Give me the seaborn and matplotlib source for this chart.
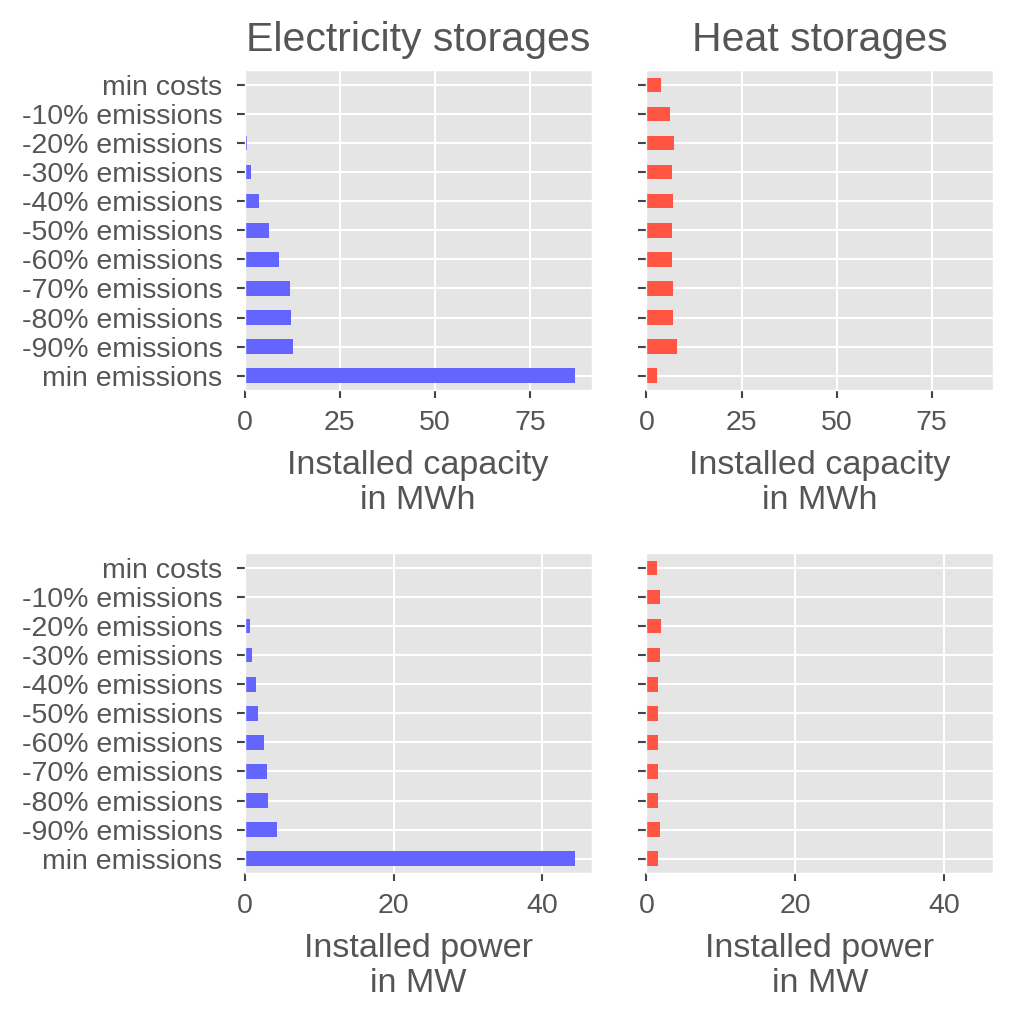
import matplotlib
matplotlib.use('Agg')
import matplotlib.pyplot as plt
import seaborn as sns
import pandas as pd

# scenario labels, top to bottom
scenarios = ['min costs', '-10% emissions', '-20% emissions', '-30% emissions',
             '-40% emissions', '-50% emissions', '-60% emissions', '-70% emissions',
             '-80% emissions', '-90% emissions', 'min emissions']

# installed capacity in MWh
el_capacity = [0.0, 0.0, 0.6, 1.6, 3.7, 6.5, 9.0, 11.9, 12.2, 12.8, 86.8]
heat_capacity = [3.8, 6.3, 7.3, 6.6, 7.0, 6.6, 6.6, 7.0, 7.0, 8.0, 2.8]

# installed power in MW
el_power = [0.0, 0.0, 0.67, 0.94, 1.47, 1.83, 2.59, 2.94, 3.12, 4.37, 44.4]
heat_power = [1.43, 1.8, 1.97, 1.8, 1.6, 1.6, 1.6, 1.6, 1.6, 1.85, 1.6]

el_color = '#6464ff'
heat_color = '#ff5542'

plt.style.use('ggplot')
plt.rcParams['font.family'] = ['Liberation Sans', 'DejaVu Sans']
plt.rcParams['font.size'] = 20.5
plt.rcParams['text.color'] = '#555555'

fig, axes = plt.subplots(2, 2, figsize=(10.24, 10.19), dpi=100, sharex='row')
fig.subplots_adjust(left=0.239, right=0.970, top=0.931, bottom=0.143, wspace=0.158, hspace=0.51)

panels = [
    (axes[0, 0], el_capacity, el_color, 'Installed capacity\nin MWh'),
    (axes[0, 1], heat_capacity, heat_color, 'Installed capacity\nin MWh'),
    (axes[1, 0], el_power, el_color, 'Installed power\nin MW'),
    (axes[1, 1], heat_power, heat_color, 'Installed power\nin MW'),
]

for ax, vals, col, lab in panels:
    df = pd.DataFrame({'scenario': scenarios, 'value': vals})
    sns.barplot(data=df, x='value', y='scenario', order=scenarios, orient='h',
                color=col, saturation=1, width=0.5, ax=ax)
    ax.set_xlabel(lab, labelpad=10)
    ax.set_ylabel('')
    ax.grid(True, color='white', linewidth=1.5)
    ax.set_axisbelow(True)
    ax.tick_params(axis='both', colors='#444444', labelcolor='#555555',
                   length=6, width=1.5)
    ax.tick_params(axis='x', pad=8)
    ax.tick_params(axis='y', pad=10)

axes[0, 0].set_xlim(0, 86.8 * 1.05)
axes[1, 0].set_xlim(0, 44.4 * 1.05)
axes[0, 0].set_xticks([0, 25, 50, 75])
axes[1, 0].set_xticks([0, 20, 40])
for ax in axes[:, 1]:
    ax.tick_params(axis='y', labelleft=False)

axes[0, 0].set_title('Electricity storages', color='#555555', pad=14)
axes[0, 1].set_title('Heat storages', color='#555555', pad=14)

fig.savefig('out.png', dpi=100)
